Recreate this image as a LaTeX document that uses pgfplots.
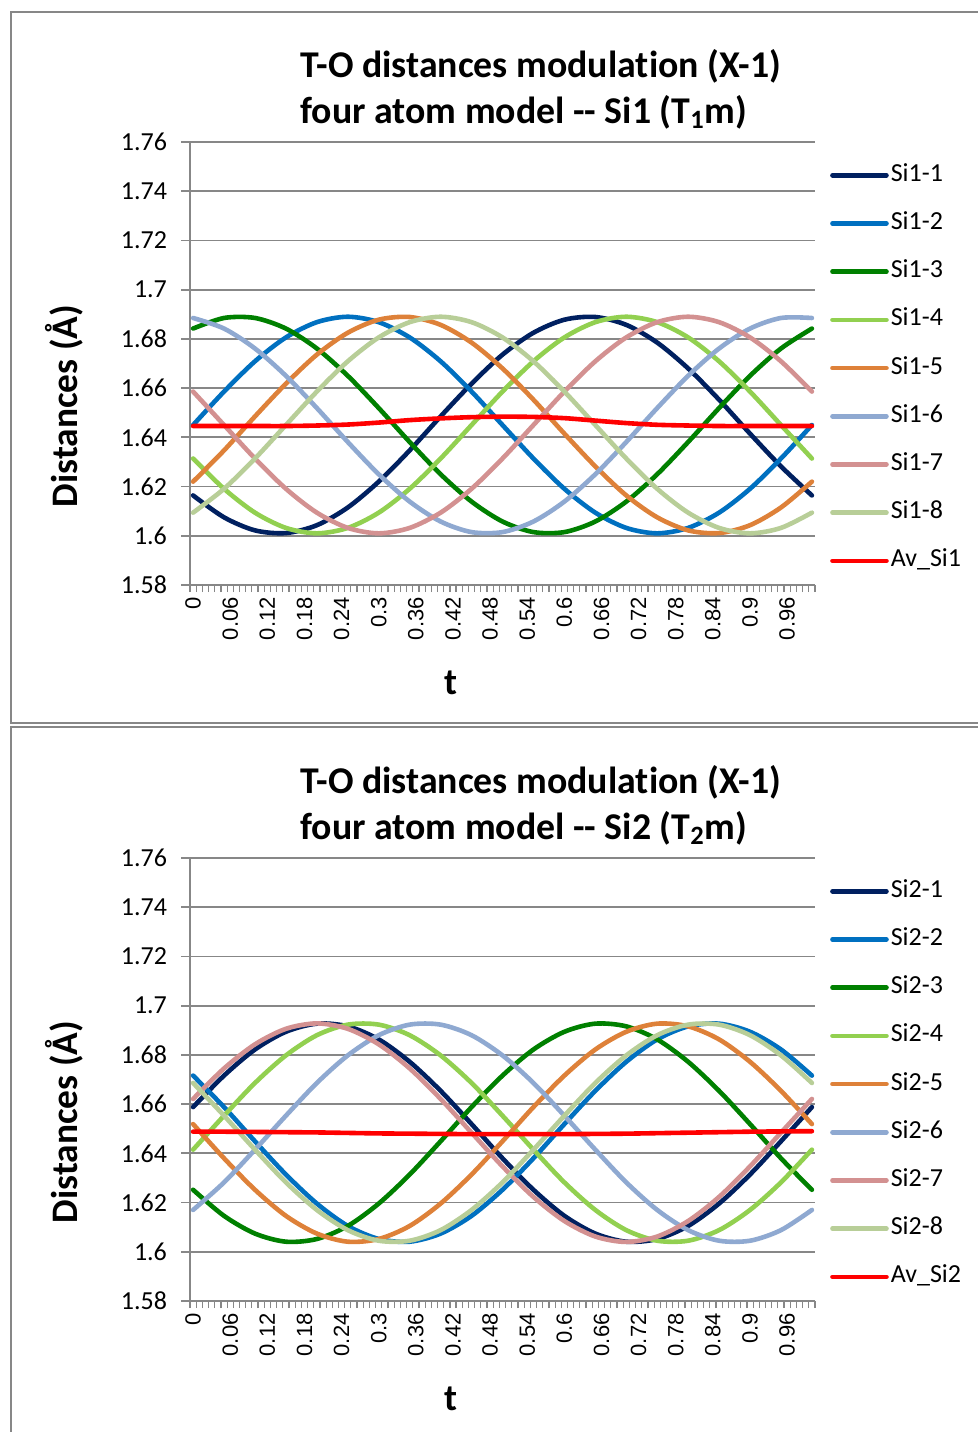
\documentclass[border=0pt]{standalone}
\usepackage{fontspec}
\setmainfont{Carlito}[Ligatures={TeX,NoCommon}]
\newfontfamily\arialfont{Liberation Sans}
\usepackage{pgfplots}
\usepackage{pgfplotstable}
\pgfplotsset{compat=1.18}

\definecolor{axgray}{HTML}{878787}
\definecolor{cA}{HTML}{002060}
\definecolor{cB}{HTML}{0070C0}
\definecolor{cC}{HTML}{008000}
\definecolor{cD}{HTML}{92D050}
\definecolor{cE}{HTML}{DE8139}
\definecolor{cF}{HTML}{8FA9D1}
\definecolor{cG}{HTML}{D39191}
\definecolor{cH}{HTML}{B8CE98}
\definecolor{cI}{HTML}{FF0000}

% Si1 (T1m) distances, every 0.05 in t
\pgfplotstableread{
t    s1     s2     s3     s4     s5     s6     s7     s8     av
0.00 1.6164 1.6450 1.6842 1.6314 1.6220 1.6885 1.6586 1.6094 1.6446
0.05 1.6075 1.6586 1.6885 1.6191 1.6347 1.6842 1.6450 1.6191 1.6446
0.10 1.6022 1.6709 1.6885 1.6094 1.6485 1.6761 1.6314 1.6314 1.6446
0.15 1.6011 1.6806 1.6842 1.6032 1.6618 1.6650 1.6191 1.6450 1.6446
0.20 1.6043 1.6868 1.6761 1.6010 1.6736 1.6519 1.6094 1.6586 1.6448
0.25 1.6115 1.6890 1.6650 1.6032 1.6825 1.6381 1.6032 1.6709 1.6452
0.30 1.6220 1.6868 1.6519 1.6094 1.6878 1.6250 1.6010 1.6806 1.6460
0.35 1.6347 1.6806 1.6381 1.6191 1.6889 1.6139 1.6032 1.6868 1.6470
0.40 1.6485 1.6709 1.6250 1.6314 1.6857 1.6058 1.6094 1.6890 1.6477
0.45 1.6618 1.6586 1.6139 1.6450 1.6785 1.6015 1.6191 1.6868 1.6482
0.50 1.6736 1.6450 1.6058 1.6586 1.6680 1.6015 1.6314 1.6806 1.6484
0.55 1.6825 1.6314 1.6015 1.6709 1.6553 1.6058 1.6450 1.6709 1.6483
0.60 1.6878 1.6191 1.6015 1.6806 1.6415 1.6139 1.6586 1.6586 1.6478
0.65 1.6889 1.6094 1.6058 1.6868 1.6282 1.6250 1.6709 1.6450 1.6468
0.70 1.6857 1.6032 1.6139 1.6890 1.6164 1.6381 1.6806 1.6314 1.6458
0.75 1.6785 1.6010 1.6250 1.6868 1.6075 1.6519 1.6868 1.6191 1.6451
0.80 1.6680 1.6032 1.6381 1.6806 1.6022 1.6650 1.6890 1.6094 1.6448
0.85 1.6553 1.6094 1.6519 1.6709 1.6011 1.6761 1.6868 1.6032 1.6446
0.90 1.6415 1.6191 1.6650 1.6586 1.6043 1.6842 1.6806 1.6010 1.6446
0.95 1.6282 1.6314 1.6761 1.6450 1.6115 1.6885 1.6709 1.6032 1.6446
1.00 1.6164 1.6450 1.6842 1.6314 1.6220 1.6885 1.6586 1.6094 1.6446
}\siA

% Si2 (T2m) distances
\pgfplotstableread{
t    s1     s2     s3     s4     s5     s6     s7     s8     av
0.00 1.6588 1.6716 1.6252 1.6415 1.6519 1.6170 1.6621 1.6686 1.6488
0.05 1.6716 1.6588 1.6146 1.6553 1.6380 1.6282 1.6745 1.6553 1.6488
0.10 1.6822 1.6449 1.6074 1.6686 1.6252 1.6415 1.6843 1.6415 1.6487
0.15 1.6894 1.6314 1.6041 1.6798 1.6146 1.6553 1.6906 1.6282 1.6486
0.20 1.6927 1.6196 1.6052 1.6880 1.6074 1.6686 1.6928 1.6170 1.6485
0.25 1.6916 1.6105 1.6105 1.6923 1.6041 1.6798 1.6906 1.6088 1.6483
0.30 1.6863 1.6052 1.6196 1.6923 1.6052 1.6880 1.6843 1.6045 1.6481
0.35 1.6772 1.6041 1.6314 1.6880 1.6105 1.6923 1.6745 1.6045 1.6480
0.40 1.6654 1.6074 1.6449 1.6798 1.6196 1.6923 1.6621 1.6088 1.6479
0.45 1.6519 1.6146 1.6588 1.6686 1.6314 1.6880 1.6484 1.6170 1.6478
0.50 1.6380 1.6252 1.6716 1.6553 1.6449 1.6798 1.6347 1.6282 1.6478
0.55 1.6252 1.6380 1.6822 1.6415 1.6588 1.6686 1.6223 1.6415 1.6478
0.60 1.6146 1.6519 1.6894 1.6282 1.6716 1.6553 1.6125 1.6553 1.6478
0.65 1.6074 1.6654 1.6927 1.6170 1.6822 1.6415 1.6062 1.6686 1.6479
0.70 1.6041 1.6772 1.6916 1.6088 1.6894 1.6282 1.6040 1.6798 1.6480
0.75 1.6052 1.6863 1.6863 1.6045 1.6927 1.6170 1.6062 1.6880 1.6482
0.80 1.6105 1.6916 1.6772 1.6045 1.6916 1.6088 1.6125 1.6923 1.6484
0.85 1.6196 1.6927 1.6654 1.6088 1.6863 1.6045 1.6223 1.6923 1.6486
0.90 1.6314 1.6894 1.6519 1.6170 1.6772 1.6045 1.6347 1.6880 1.6488
0.95 1.6449 1.6822 1.6380 1.6282 1.6654 1.6088 1.6484 1.6798 1.6489
1.00 1.6588 1.6716 1.6252 1.6415 1.6519 1.6170 1.6621 1.6686 1.6490
}\siB

\pgfplotsset{
  tochart/.style={
    scale only axis, width=312.5pt, height=221.5pt,
    xmin=-0.005, xmax=1.005, ymin=1.58, ymax=1.76,
    axis x line=bottom, axis y line=left,
    axis line style={-, axgray, line width=0.9pt},
    xtick={0,0.06,0.12,0.18,0.24,0.3,0.36,0.42,0.48,0.54,0.6,0.66,0.72,0.78,0.84,0.9,0.96},
    xticklabels={0,0.06,0.12,0.18,0.24,0.3,0.36,0.42,0.48,0.54,0.6,0.66,0.72,0.78,0.84,0.9,0.96},
    minor xtick={-0.005,0.005,...,1.006},
    ytick={1.58,1.6,1.62,1.64,1.66,1.68,1.7,1.72,1.74,1.76},
    yticklabels={1.58,1.6,1.62,1.64,1.66,1.68,1.7,1.72,1.74,1.76},
    ymajorgrids, major grid style={axgray, line width=0.9pt},
    tick align=outside, major tick length=4.5pt, minor tick length=3.5pt,
    major x tick style={draw=none},
    minor x tick style={axgray, line width=0.6pt},
    y tick style={axgray, line width=0.9pt},
    xticklabel style={font=\arialfont\fontsize{11}{11}\selectfont, rotate=90, anchor=east, inner sep=1.5pt},
    yticklabel style={font=\fontsize{13}{13}\selectfont, xshift=-3.5pt},
    legend cell align=left,
    legend style={draw=none, fill=none, at={(1.014,0.962)}, anchor=north west,
      font=\fontsize{13}{13}\selectfont, row sep=12.1pt,
      nodes={inner sep=0pt, text height=9pt, text depth=3pt},
      /tikz/every odd column/.append style={column sep=1pt}},
    legend image code/.code={\draw[#1, line width=2.3pt, line cap=round] (0pt,0pt) -- (27pt,0pt);},
    every axis plot/.append style={line width=2.3pt, smooth, line cap=round, line join=round},
  }
}

\begin{document}
\begin{tikzpicture}[x=0.5pt, y=-0.5pt]
  \tikzset{ttl/.style={anchor=base west, inner sep=0pt, font=\bfseries\fontsize{18.9}{18.9}\selectfont},
           lbl/.style={font=\bfseries\fontsize{18.7}{18.7}\selectfont}}
  % panel frames
  \draw[axgray, line width=0.8pt] (990,12) -- (11,12) -- (11,723) -- (990,723);
  \draw[axgray, line width=0.8pt] (990,727) -- (11,727) -- (11,1445);

  % top chart
  \node[ttl] at (300,77) {T-O distances modulation (X-1)};
  \node[ttl] at (300,123) {four atom model -{}- Si1 (T\textsubscript{1}m)};
  \node[lbl, rotate=90] at (64,406) {Distances (Å)};
  \node[lbl] at (451,683) {t};
  \begin{axis}[tochart, at={(95pt,-71pt)}, anchor=north west]
    \addplot[cA] table[x=t, y=s1] {\siA}; \addlegendentry{Si1-1}
    \addplot[cB] table[x=t, y=s2] {\siA}; \addlegendentry{Si1-2}
    \addplot[cC] table[x=t, y=s3] {\siA}; \addlegendentry{Si1-3}
    \addplot[cD] table[x=t, y=s4] {\siA}; \addlegendentry{Si1-4}
    \addplot[cE] table[x=t, y=s5] {\siA}; \addlegendentry{Si1-5}
    \addplot[cF] table[x=t, y=s6] {\siA}; \addlegendentry{Si1-6}
    \addplot[cG] table[x=t, y=s7] {\siA}; \addlegendentry{Si1-7}
    \addplot[cH] table[x=t, y=s8] {\siA}; \addlegendentry{Si1-8}
    \addplot[cI] table[x=t, y=av] {\siA}; \addlegendentry{Av\_Si1}
  \end{axis}

  % bottom chart
  \node[ttl] at (300,793) {T-O distances modulation (X-1)};
  \node[ttl] at (300,839) {four atom model -{}- Si2 (T\textsubscript{2}m)};
  \node[lbl, rotate=90] at (64,1122) {Distances (Å)};
  \node[lbl] at (451,1399) {t};
  \begin{axis}[tochart, at={(95pt,-429pt)}, anchor=north west]
    \addplot[cA] table[x=t, y=s1] {\siB}; \addlegendentry{Si2-1}
    \addplot[cB] table[x=t, y=s2] {\siB}; \addlegendentry{Si2-2}
    \addplot[cC] table[x=t, y=s3] {\siB}; \addlegendentry{Si2-3}
    \addplot[cD] table[x=t, y=s4] {\siB}; \addlegendentry{Si2-4}
    \addplot[cE] table[x=t, y=s5] {\siB}; \addlegendentry{Si2-5}
    \addplot[cF] table[x=t, y=s6] {\siB}; \addlegendentry{Si2-6}
    \addplot[cG] table[x=t, y=s7] {\siB}; \addlegendentry{Si2-7}
    \addplot[cH] table[x=t, y=s8] {\siB}; \addlegendentry{Si2-8}
    \addplot[cI] table[x=t, y=av] {\siB}; \addlegendentry{Av\_Si2}
  \end{axis}

  \pgfresetboundingbox
  \path[use as bounding box] (0,0) rectangle (978,1432);
\end{tikzpicture}
\end{document}
